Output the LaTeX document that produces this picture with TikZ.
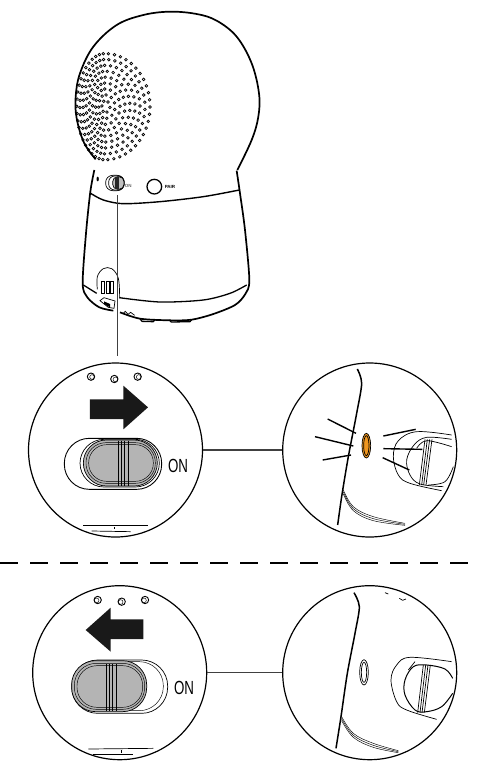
\documentclass[tikz,border=0pt]{standalone}
\usepackage{fontspec}
\setmainfont{Liberation Sans}
\definecolor{slidegray}{HTML}{B4B4B4}
\definecolor{ledorange}{HTML}{F0961E}
\begin{document}
\begin{tikzpicture}[
  x=1pt, y=-1pt,
  outline/.style  = {line width=1.7pt, line join=round},
  thinline/.style = {line width=0.7pt},
  fine/.style     = {line width=0.45pt},
  lens/.style     = {circle, draw, line width=1.2pt, inner sep=0pt, minimum size=174pt},
  leader/.style   = {line width=1.4pt, draw=black!75},
  ray/.style      = {line width=1.4pt},
  bigarrow/.style = {fill=black!90},
  hole/.style     = {line width=0.9pt, fill=white},
  onlbl/.style    = {font=\fontsize{19}{19}\selectfont, xscale=0.7, inner sep=0pt},
  tinylbl/.style  = {font=\fontsize{4.5}{4.5}\selectfont\bfseries, inner sep=0pt}
]
\useasboundingbox (0,0) rectangle (479,761);

% ---- CAMERA: head ----
\begin{scope}[shift={(60,0)}, scale=1/3]
  \draw[outline] plot[smooth, tension=0.6] coordinates {(107,478) (72,428) (50,355) (47,290) (60,220)
    (100,140) (170,75) (250,45) (330,35) (410,42) (470,62) (530,110) (575,190) (597,280) (595,350)
    (575,420) (532,510)};
  \foreach \r in {1,...,9} {
    \pgfmathtruncatemacro{\n}{5*\r+1}
    \foreach \k in {1,...,\n} {
      \pgfmathsetmacro{\ang}{360/\n*\k+7*\r}
      \pgfmathsetmacro{\cs}{cos(\ang)}
      \pgfmathsetmacro{\dx}{\cs>0 ? 15*\r*\cs : 9.4*\r*\cs}
      \pgfmathsetmacro{\dy}{17.7*\r*sin(\ang)}
      \draw[line width=0.7pt] (135+\dx,320+\dy) circle (4);
    }
  }
\end{scope}

% ---- CAMERA: base ----
\begin{scope}[shift={(60,170)}, scale=1/3]
  \draw[outline] plot[smooth, tension=0.5] coordinates {(103,0) (91,65) (78,190) (68,340)
    (82,382) (118,412) (160,422)};
  \draw[outline] plot[smooth, tension=0.5] coordinates {(180,427) (240,446) (330,451) (395,449)
    (460,432) (525,405) (556,372) (568,330) (555,180) (540,70) (530,2)};
  \draw[outline, line width=1.4pt] plot[smooth, tension=0.5] coordinates {(92,70) (130,90) (190,101)
    (300,95) (430,80) (538,60)};
  \draw[outline, line width=1.3pt] plot[smooth, tension=0.5] coordinates {(70,345) (110,370)};
  \draw[outline, line width=1.3pt] plot[smooth, tension=0.5] coordinates {(178,383) (300,396)
    (430,390) (510,370) (560,345)};
  % battery door
  \draw[thinline] plot[smooth, tension=0.6] coordinates {(112,358) (112,320) (130,296)
    (155,296) (175,325) (179,385)};
  \foreach \gx in {125,139,152} {
    \draw[thinline] (\gx,335) rectangle (\gx+9,370);
  }
  \draw[thinline] (120,392) -- (132,383) -- (165,393) -- (162,415) -- (145,412) -- cycle;
  \fill[black] (132,394) -- (150,402) -- (150,412) -- (132,402) -- cycle;
  % feet
  \draw[outline, line width=1.3pt] (240,446) -- (246,454) -- (280,455) -- (285,448);
  \draw[outline, line width=1.3pt] (328,450) -- (334,456) -- (390,455) -- (395,449);
  \draw[thinline] (190,430) -- (196,424) -- (204,433) -- (212,427) -- (224,436);
  % controls
  \fill[black] (113,27) ellipse (3.5 and 7);
  \draw[thinline, rounded corners=7pt] (137,16) rectangle (193,62);
  \draw[thinline, rounded corners=6pt] (146,18) rectangle (192,60);
  \draw[thinline, fill=black!25, rounded corners=5pt] (158,20) rectangle (192,58);
  \fill[black!85] (166,20) rectangle (176,58);
  \node[tinylbl, text=black!60] (miniOn) at (205,47) {ON};
  \draw[outline, line width=1.3pt] (283,50) circle (22);
  \node[tinylbl] (pairLbl) at (330,50) {PAIR};
  \coordinate (swTip) at (172,75);
  \coordinate (swEnd) at (172,558);
\end{scope}
\draw[leader] (swTip) -- (swEnd);

% ---- UPPER ROW: switch moved to ON ----
\node[lens] (onLeft)  at (115.5,450) {};
\node[lens] (onRight) at (369.7,450) {};
\draw[leader] (onLeft.east) -- (onRight.west);

\begin{scope}[shift={(20,350)}, scale=1/3]
  \foreach \hx/\hy in {213/80, 283/87, 353/80} {
    \draw[hole] (\hx,\hy) circle (11);
    \draw[fine] (\hx+3,\hy+1) circle (7);
  }
  \fill[bigarrow] (210,148) -- (310,148) -- (310,107) -- (384,172) -- (310,238) -- (310,207) -- (210,207) -- cycle;
  \draw[line width=0.9pt, rounded corners=25pt] (133,265) rectangle (425,418);
  \draw[thinline, rounded corners=24pt] (180,268) rectangle (418,411);
  \draw[thinline, fill=slidegray, rounded corners=23pt] (190,270) rectangle (412,408);
  \draw[fine, rounded corners=20pt] (198,278) rectangle (406,400);
  \draw[fine, rounded corners=18pt] (206,284) rectangle (400,394);
  \foreach \rx in {296,304,314,325} {
    \draw[thinline] (\rx,272) -- (\rx,408);
  }
  \node[onlbl] (onLblA) at (474,347) {ON};
  \draw[thinline] (190,527) -- (385,527);
  \draw[thinline] (215,543) -- (332,545);
  \draw[fine] (283,532) -- (283,538);
\end{scope}

\begin{scope}[shift={(260,350)}, scale=1/3]
  \draw[outline, line width=1.5pt] plot[smooth, tension=0.5] coordinates {(292,57) (305,100) (290,190)
    (265,320) (245,440) (233,525)};
  \foreach \sh in {0,6,12} {
    \draw[fine] plot[smooth, tension=0.6] coordinates {(250,420+\sh) (280,470+\sh) (340,500+\sh) (435,520+\sh/2)};
  }
  \foreach \ax/\ay/\bx/\by in {203/207/288/250, 165/260/280/288, 188/330/273/315,
      370/258/467/238, 370/296/487/298, 368/323/448/360} {
    \draw[ray] (\ax,\ay) -- (\bx,\by);
  }
  \draw[thinline, fill=ledorange] (319,287) ellipse (13 and 37);
  \draw[thinline] (319,287) ellipse (8 and 30);
  % side view of the switch
  \draw[thinline] plot[smooth, tension=0.6] coordinates {(575,255) (470,245) (415,272) (400,320)
    (415,375) (450,400) (545,422)};
  \draw[thinline] plot[smooth, tension=0.6] coordinates {(575,268) (500,262) (462,285) (440,330)
    (450,375) (480,402) (550,410)};
  \draw[thinline] plot[smooth, tension=0.6] coordinates {(575,290) (500,272) (470,295)};
  \draw[thinline] plot[smooth, tension=0.6] coordinates {(505,405) (555,395) (580,350)};
  \foreach \rx/\sx in {495/478, 502/485, 509/491, 516/498} {
    \draw[thinline] (\rx,268) -- (\sx,405);
  }
\end{scope}

% ---- DIVIDER ----
\coordinate (dashL) at (0,563);
\coordinate (dashR) at (479,563);
\draw[line width=1.3pt, dash pattern=on 18pt off 12pt] (dashL) -- (dashR);

% ---- LOWER ROW: switch moved back ----
\node[lens] (offLeft)  at (119.7,672.7) {};
\node[lens] (offRight) at (369.7,672.7) {};
\draw[leader] (offLeft.east) -- (offRight.west);

\begin{scope}[shift={(20,570)}, scale=1/3]
  \foreach \hx/\hy in {233/90, 305/95, 375/90} {
    \draw[hole] (\hx,\hy) circle (11);
    \draw[fine] (\hx-3,\hy+1) circle (7);
  }
  \fill[bigarrow] (370,148) -- (272,148) -- (272,113) -- (197,180) -- (272,245) -- (272,207) -- (370,207) -- cycle;
  \draw[thinline, rounded corners=26pt] (155,270) rectangle (443,430);
  \draw[fine, rounded corners=24pt] (160,275) rectangle (430,422);
  \draw[thinline, fill=slidegray, rounded corners=24pt] (155,272) rectangle (380,425);
  \draw[fine, rounded corners=22pt] (163,280) rectangle (374,418);
  \draw[fine, rounded corners=20pt] (171,287) rectangle (368,412);
  \foreach \rx in {260,268,278,290} {
    \draw[thinline] (\rx,282) -- (\rx,422);
  }
  \node[onlbl] (onLblB) at (492,355) {ON};
  \draw[thinline] (205,537) -- (400,535);
  \draw[thinline] (218,552) -- (340,552);
  \draw[fine] (303,541) -- (303,548);
\end{scope}

\begin{scope}[shift={(260,570)}, scale=1/3]
  \draw[outline, line width=1.5pt] plot[smooth, tension=0.5] coordinates {(282,68) (298,110) (285,190)
    (262,310) (243,440) (228,535)};
  \foreach \sh in {0,6,12} {
    \draw[fine] plot[smooth, tension=0.6] coordinates {(245,440+\sh) (280,490+\sh) (340,520+\sh) (415,542+\sh/2)};
  }
  \draw[thinline] (375,68) -- (385,72);
  \draw[thinline] (418,85) -- (428,91) -- (438,87);
  \draw[thinline, fill=white] (312,307) ellipse (13 and 38);
  \draw[thinline] (312,307) ellipse (8 and 30);
  % side view of the switch
  \draw[thinline] plot[smooth, tension=0.6] coordinates {(575,275) (450,262) (410,285) (393,330)
    (410,395) (440,420) (530,448)};
  \draw[line width=1pt] plot[smooth, tension=0.6] coordinates {(578,325) (555,297) (500,285) (460,290)
    (435,330) (435,375) (465,420) (500,425) (545,410) (578,370)};
  \draw[thinline] plot[smooth, tension=0.6] coordinates {(465,275) (445,300)};
  \foreach \rx/\sx in {490/473, 497/480, 504/486, 511/493} {
    \draw[thinline] (\rx,285) -- (\sx,428);
  }
\end{scope}
\end{tikzpicture}
\end{document}
